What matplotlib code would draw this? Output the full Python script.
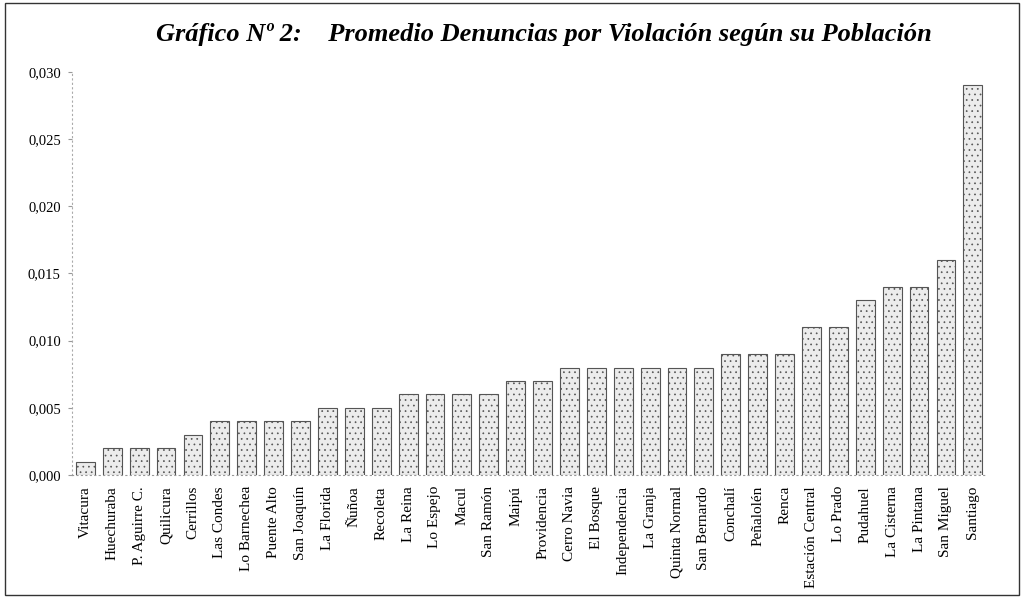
import matplotlib
matplotlib.use("Agg")
import matplotlib.pyplot as plt
from matplotlib.patches import Rectangle

comunas = ["Vitacura", "Huechuraba", "P. Aguirre C.", "Quilicura", "Cerrillos",
           "Las Condes", "Lo Barnechea", "Puente Alto", "San Joaquín", "La Florida",
           "Ñuñoa", "Recoleta", "La Reina", "Lo Espejo", "Macul", "San Ramón",
           "Maipú", "Providencia", "Cerro Navia", "El Bosque", "Independencia",
           "La Granja", "Quinta Normal", "San Bernardo", "Conchalí", "Peñalolén",
           "Renca", "Estación Central", "Lo Prado", "Pudahuel", "La Cisterna",
           "La Pintana", "San Miguel", "Santiago"]
promedio = [0.001, 0.002, 0.002, 0.002, 0.003,
            0.004, 0.004, 0.004, 0.004, 0.005,
            0.005, 0.005, 0.006, 0.006, 0.006, 0.006,
            0.007, 0.007, 0.008, 0.008, 0.008,
            0.008, 0.008, 0.008, 0.009, 0.009,
            0.009, 0.011, 0.011, 0.013, 0.014,
            0.014, 0.016, 0.029]
yticks = [0.000, 0.005, 0.010, 0.015, 0.020, 0.025, 0.030]

plt.rcParams['font.family'] = ['Liberation Serif', 'DejaVu Serif']
plt.rcParams['hatch.color'] = '#c4c4c4'
plt.rcParams['hatch.linewidth'] = 0.5

fig = plt.figure(figsize=(10.25, 5.99), dpi=100)
ax = fig.add_axes([0.0702, 0.207, 0.892, 0.673])

x = range(len(comunas))
ax.bar(x, promedio, width=0.7, color='#ececec', edgecolor='#555555',
       linewidth=0.8, hatch='...')

ax.set_xlim(-0.5, len(comunas) - 0.5)
ax.set_ylim(0, 0.030)
ax.set_yticks(yticks)
ax.set_yticklabels([f"{v:.3f}".replace('.', ',') for v in yticks], fontsize=10.5)
ax.set_xticks(list(x))
ax.set_xticklabels(comunas, rotation=90, fontsize=11)
ax.tick_params(axis='x', length=0, pad=8)
ax.tick_params(axis='y', length=3, color='#999999', pad=5)

for side in ['top', 'right']:
    ax.spines[side].set_visible(False)
ax.spines['left'].set_color('#aaaaaa')
ax.spines['left'].set_linestyle((0, (1, 3)))
ax.spines['bottom'].set_color('#999999')
ax.spines['bottom'].set_linestyle((0, (1, 3)))

fig.text(0.531, 0.942, "Gráfico Nº 2:    Promedio Denuncias por Violación según su Población",
         ha='center', va='center', fontsize=19, fontweight='bold', style='italic')

# outer frame of the scanned page
fig.patches.append(Rectangle((0.005, 0.006), 0.989, 0.989, transform=fig.transFigure,
                             fill=False, edgecolor='#333333', linewidth=1.0))

fig.savefig("out.png", dpi=100)
